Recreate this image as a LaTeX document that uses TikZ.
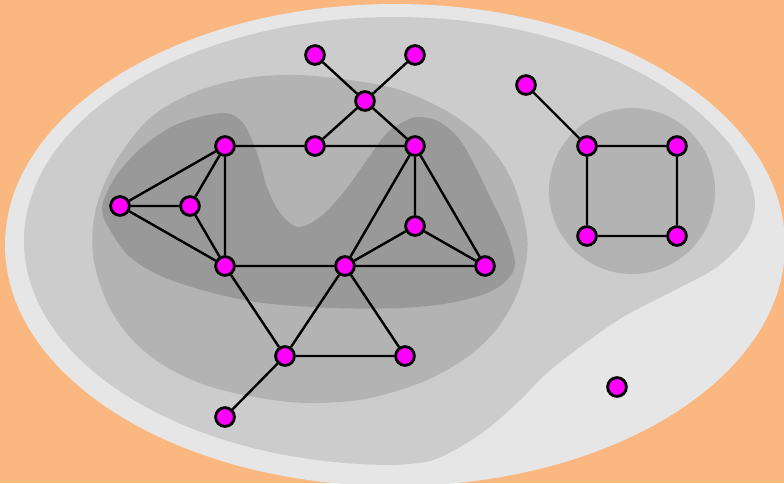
\documentclass[tikz,border=0pt]{standalone}
\begin{document}
\begin{tikzpicture}[x=1pt,y=-1pt,
  vertex/.style={circle, draw=black, fill=vtxfill, line width=2.8pt,
                 minimum size=18.8pt, inner sep=0pt},
  link/.style={draw=black, line width=2.4pt}]
\definecolor{bgorange}{RGB}{250,184,128}
\definecolor{vtxfill}{RGB}{255,0,255}
\definecolor{shadeA}{RGB}{230,230,230}
\definecolor{shadeB}{RGB}{204,204,204}
\definecolor{shadeC}{RGB}{179,179,179}
\definecolor{shadeD}{RGB}{153,153,153}

\useasboundingbox (0,0) rectangle (784,483);
\clip (0,0) rectangle (784,483);
\fill[bgorange] (0,0) rectangle (784,483);

% nested regions
\fill[shadeA] (395,245) ellipse [x radius=390, y radius=241];
\fill[shadeB] (395,465) arc[start angle=90, end angle=335,
                            x radius=371, y radius=224]
  -- plot[smooth, tension=0.55] coordinates {
  (731,146) (748,175) (755,207) (745,238) (717,267) (675,290) (623,317)
  (580,347) (547,373) (520,400) (490,427) (460,447) (430,461)
  (395,465)} -- cycle;
\fill[shadeC] plot[smooth cycle, tension=0.55] coordinates {
  (297,75) (350,80) (400,90) (450,113) (487,143) (513,183) (527,235)
  (524,272) (512,305) (490,337) (460,362) (420,383) (365,399) (310,403)
  (260,398) (205,385) (160,363) (128,335) (106,300) (93,255)
  (96,208) (116,161) (150,118) (195,92) (247,78)};
\fill[shadeC] (632,191) circle [radius=83];
\fill[shadeD] plot[smooth cycle, tension=0.55] coordinates {
  (223,113) (243,123) (257,153) (267,187) (280,213) (298,227) (320,217)
  (343,193) (367,160) (387,133) (407,120) (420,117) (440,122) (460,140)
  (477,170) (493,203) (507,233) (515,263) (507,280) (487,293) (450,303)
  (400,308) (333,308) (263,303) (213,293) (163,277) (130,257) (110,230)
  (102,210) (108,190) (122,168) (147,143) (180,123)};

% vertices
\node[vertex] (a) at (315,55)  {};
\node[vertex] (b) at (415,55)  {};
\node[vertex] (c) at (365,101) {};
\node[vertex] (d) at (526,85)  {};
\node[vertex] (e) at (225,146) {};
\node[vertex] (f) at (315,146) {};
\node[vertex] (g) at (415,146) {};
\node[vertex] (h) at (587,146) {};
\node[vertex] (i) at (677,146) {};
\node[vertex] (j) at (120,206) {};
\node[vertex] (k) at (190,206) {};
\node[vertex] (l) at (415,226) {};
\node[vertex] (m) at (587,236) {};
\node[vertex] (n) at (677,236) {};
\node[vertex] (o) at (225,266) {};
\node[vertex] (p) at (345,266) {};
\node[vertex] (q) at (485,266) {};
\node[vertex] (r) at (285,356) {};
\node[vertex] (s) at (405,356) {};
\node[vertex] (t) at (225,417) {};
\node[vertex] (u) at (617,387) {};

% edges
\path[link] (a) -- (c) (b) -- (c) (c) -- (f) (c) -- (g)
  (e) -- (f) (f) -- (g)
  (d) -- (h) (h) -- (i) (h) -- (m) (i) -- (n) (m) -- (n)
  (j) -- (e) (j) -- (k) (j) -- (o) (k) -- (e) (k) -- (o) (e) -- (o)
  (g) -- (l) (g) -- (q) (g) -- (p) (l) -- (p) (l) -- (q) (p) -- (q)
  (o) -- (p) (o) -- (r) (p) -- (r) (p) -- (s) (r) -- (s) (r) -- (t);
\end{tikzpicture}
\end{document}
